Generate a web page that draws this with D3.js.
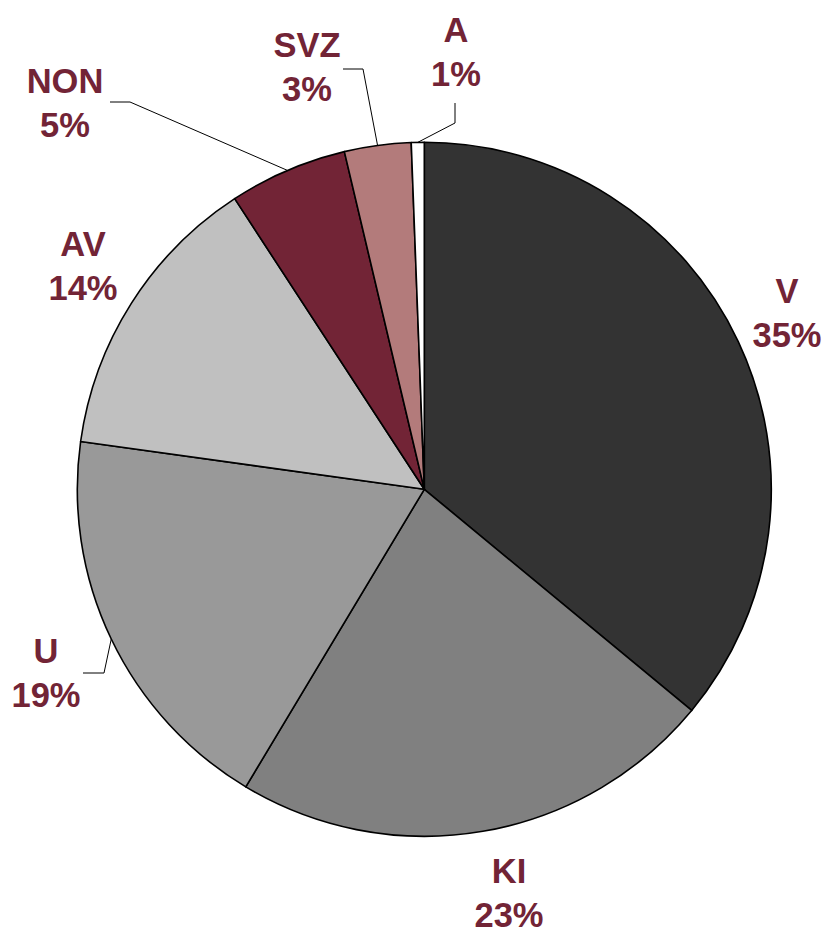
<!DOCTYPE html>
<html>
<head>
<meta charset="utf-8">
<script src="https://cdn.jsdelivr.net/npm/d3@7"></script>
<style>
  html, body { margin: 0; padding: 0; background: #ffffff; }
</style>
</head>
<body>
<div id="chart"></div>
<script>
  // Slice data, clockwise from 12 o'clock
  var categories = ['V', 'KI', 'U', 'AV', 'NON', 'SVZ', 'A'];
  var shares = [36.0, 22.6, 18.6, 13.6, 5.5, 3.1, 0.6];
  var percentLabels = ['35%', '23%', '19%', '14%', '5%', '3%', '1%'];
  var sliceColors = ['#333333', '#808080', '#999999', '#c0c0c0', '#722436', '#b37b7b', '#ffffff'];

  // Label placement (centre x, first baseline) and leader elbows
  var labelPos = {
    V: [787, 303], KI: [509, 883], U: [46, 663], AV: [83, 256],
    NON: [65, 93], SVZ: [307, 57], A: [456, 42]
  };
  var leaders = {
    U: [[83, 673], [104, 673]],
    NON: [[110, 102], [130, 102]],
    SVZ: [[343, 69], [363, 69]],
    A: [[455, 103], [455, 123]]
  };

  var width = 826, height = 931;
  var cx = 424.3, cy = 489.3, radius = 347;
  var lineGap = 44;

  var svg = d3.select('#chart').append('svg')
    .attr('width', width)
    .attr('height', height);

  var g = svg.append('g')
    .attr('transform', 'translate(' + cx + ',' + cy + ')');

  var pie = d3.pie().sort(null).value(function(d) { return d.value; });
  var arc = d3.arc().innerRadius(0).outerRadius(radius);

  var data = categories.map(function(c, i) {
    return { id: c, value: shares[i], pct: percentLabels[i], color: sliceColors[i] };
  });
  var arcs = pie(data);

  g.selectAll('.slice')
    .data(arcs)
    .enter().append('path')
      .attr('class', 'slice')
      .attr('d', arc)
      .style('fill', function(d) { return d.data.color; })
      .style('stroke', '#000000')
      .style('stroke-width', 1.6)
      .style('stroke-linejoin', 'round');

  // Leader lines: label elbow to the middle of the slice's outer edge
  arcs.forEach(function(d) {
    var pts = leaders[d.data.id];
    if (!pts) return;
    var mid = (d.startAngle + d.endAngle) / 2;
    var edge = [cx + radius * Math.sin(mid), cy - radius * Math.cos(mid)];
    var path = d3.line()(pts.concat([edge]));
    svg.append('path')
      .attr('d', path)
      .style('fill', 'none')
      .style('stroke', '#000000')
      .style('stroke-width', 1);
  });

  // Labels
  var labels = svg.selectAll('.label')
    .data(arcs)
    .enter().append('text')
      .attr('class', 'label')
      .attr('text-anchor', 'middle')
      .style('font', 'bold 34.5px "Liberation Sans", Arial, sans-serif')
      .style('fill', '#722436');

  labels.append('tspan')
    .attr('x', function(d) { return labelPos[d.data.id][0]; })
    .attr('y', function(d) { return labelPos[d.data.id][1]; })
    .text(function(d) { return d.data.id; });

  labels.append('tspan')
    .attr('x', function(d) { return labelPos[d.data.id][0]; })
    .attr('y', function(d) { return labelPos[d.data.id][1] + lineGap; })
    .text(function(d) { return d.data.pct; });
</script>
</body>
</html>
